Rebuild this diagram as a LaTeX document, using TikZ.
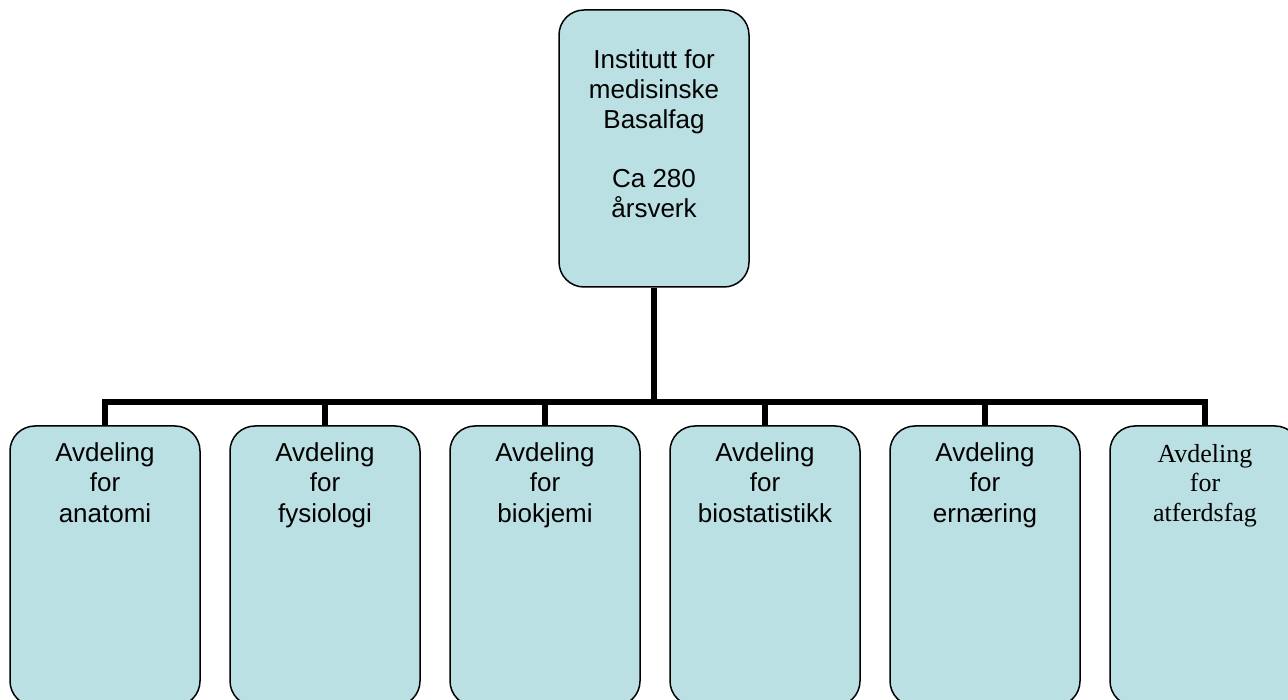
\documentclass[tikz,border=0pt]{standalone}
\usepackage{fontspec}
\setmainfont{Liberation Sans}
\newfontfamily\timesfont{Liberation Serif}
\definecolor{boxblue}{RGB}{187,224,227}
\begin{document}
\begin{tikzpicture}[x=1pt,y=-1pt,
  box/.style={draw=black, line width=1.5pt, fill=boxblue, rounded corners=25pt,
    minimum width=190pt, inner sep=0pt},
  lbl/.style={align=center, inner sep=0pt, anchor=north, font=\fontsize{26}{30.5}\selectfont},
  serlbl/.style={align=center, inner sep=0pt, anchor=north, font=\timesfont\fontsize{26}{29.5}\selectfont},
  conn/.style={line width=6pt, draw=black}]
\useasboundingbox (0,0) rectangle (1288,700);
\clip (0,0) rectangle (1288,700);
% boxes
\node[box, minimum height=277pt] (top) at (654,148.5) {};
\node[box, minimum height=280pt] (d1) at (105,566) {};
\node[box, minimum height=280pt] (d2) at (325,566) {};
\node[box, minimum height=280pt] (d3) at (545,566) {};
\node[box, minimum height=280pt] (d4) at (765,566) {};
\node[box, minimum height=280pt] (d5) at (985,566) {};
\node[box, minimum height=280pt] (d6) at (1205,566) {};
% connectors
\coordinate (bus) at (654,402);
\draw[conn] (top.south) -- (bus);
\draw[conn] (d1.north) |- (bus) -| (d6.north);
\foreach \i in {2,3,4,5} { \draw[conn] (d\i.north) -- (d\i.north |- bus); }
% labels
\node[lbl, font=\fontsize{26}{29.8}\selectfont] (ttop) at (654,49.5) {Institutt for\\medisinske\\Basalfag\\[29.8pt]Ca 280\\årsverk};
\node[lbl] (t1) at (105,442) {Avdeling\\for\\anatomi};
\node[lbl] (t2) at (325,442) {Avdeling\\for\\fysiologi};
\node[lbl] (t3) at (545,442) {Avdeling\\for\\biokjemi};
\node[lbl] (t4) at (765,442) {Avdeling\\for\\biostatistikk};
\node[lbl] (t5) at (985,442) {Avdeling\\for\\ernæring};
\node[serlbl] (t6) at (1205,444) {Avdeling\\for\\atferdsfag};
\end{tikzpicture}
\end{document}
